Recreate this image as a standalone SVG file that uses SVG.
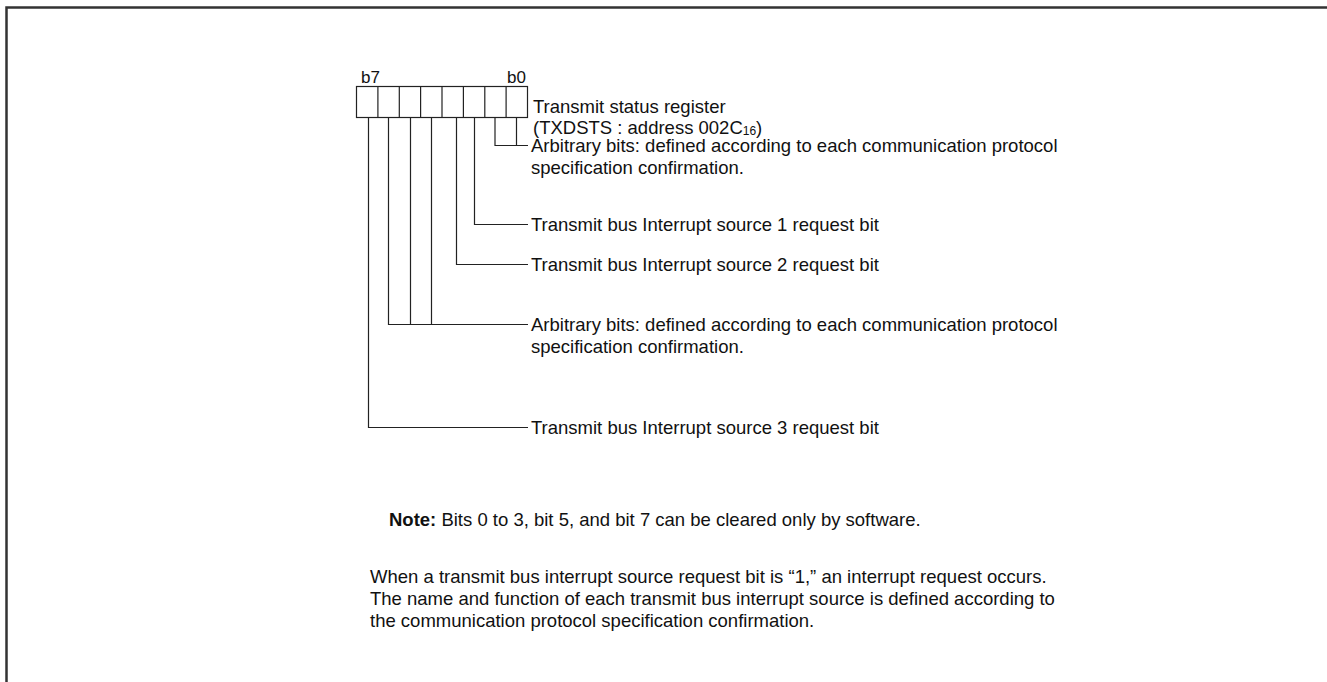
<svg xmlns="http://www.w3.org/2000/svg" width="1327" height="682" viewBox="0 0 1327 682">
<style>
text{font-family:"Liberation Sans",Arial,sans-serif;font-size:18.5px;fill:#111}
.bit{font-size:17px}
.sub{font-size:12px}
.ln{fill:none;stroke:#222;stroke-width:1.2}
.frame{fill:none;stroke:#333;stroke-width:2.5}
</style>
<rect width="1327" height="682" fill="#fff"/>
<path class="frame" d="M6.5 682 V7.5 H1327"/>
<g id="register">
<rect class="ln" x="356.5" y="86.5" width="171" height="31"/>
<path class="ln" d="M377.9 86.5v31M399.3 86.5v31M420.6 86.5v31M442 86.5v31M463.4 86.5v31M484.8 86.5v31M506.1 86.5v31"/>
<text class="bit" x="361" y="83">b7</text>
<text class="bit" x="507" y="83">b0</text>
<text x="533" y="112.5">Transmit status register</text>
<text x="533" y="133.5">(TXDSTS : address 002C<tspan class="sub" dy="1">16</tspan><tspan dy="-1">)</tspan></text>
</g>
<g id="connectors">
<path class="ln" d="M495 117.5V145.5H528M516.5 117.5V145.5"/>
<path class="ln" d="M474.5 117.5V224.5H528"/>
<path class="ln" d="M456.5 117.5V264.5H528"/>
<path class="ln" d="M388.5 117.5V324.5H528M410.5 117.5V324.5M431.5 117.5V324.5"/>
<path class="ln" d="M368.5 117.5V427.5H528"/>
</g>
<g id="label-b1b0">
<text x="531" y="152">Arbitrary bits: defined according to each communication protocol</text>
<text x="531" y="173.5">specification confirmation.</text>
</g>
<g id="label-b2"><text x="531" y="231">Transmit bus Interrupt source 1 request bit</text></g>
<g id="label-b3"><text x="531" y="271">Transmit bus Interrupt source 2 request bit</text></g>
<g id="label-b456">
<text x="531" y="331">Arbitrary bits: defined according to each communication protocol</text>
<text x="531" y="352.5">specification confirmation.</text>
</g>
<g id="label-b7"><text x="531" y="434">Transmit bus Interrupt source 3 request bit</text></g>
<g id="note">
<text x="389" y="526"><tspan font-weight="bold">Note:</tspan> Bits 0 to 3, bit 5, and bit 7 can be cleared only by software.</text>
</g>
<g id="description">
<text x="370" y="583">When a transmit bus interrupt source request bit is “1,” an interrupt request occurs.</text>
<text x="370" y="605">The name and function of each transmit bus interrupt source is defined according to</text>
<text x="370" y="627">the communication protocol specification confirmation.</text>
</g>
</svg>
